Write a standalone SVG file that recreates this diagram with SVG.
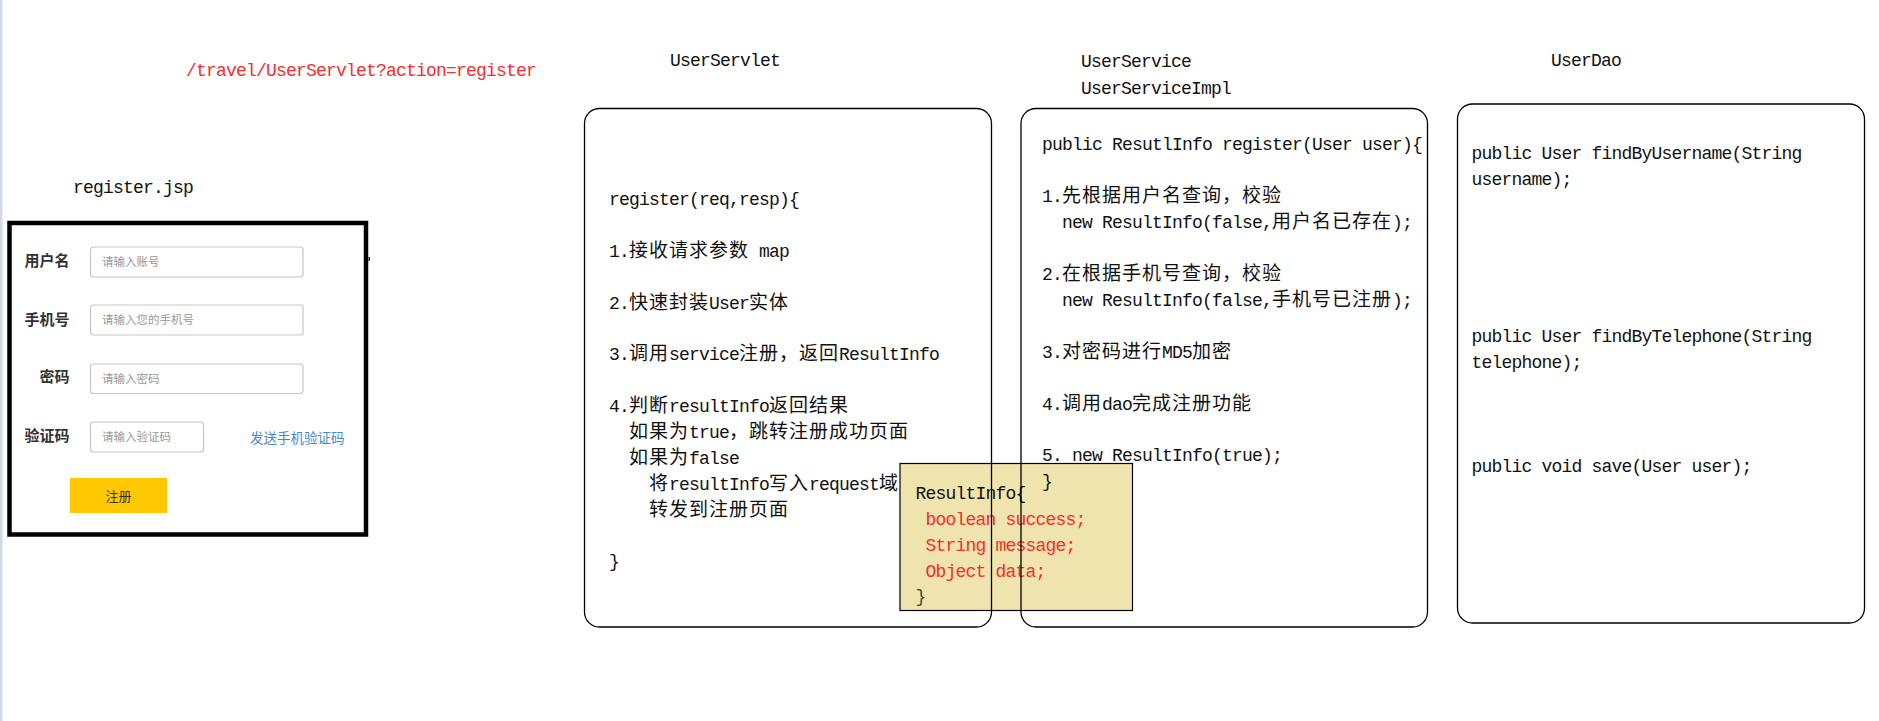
<svg xmlns="http://www.w3.org/2000/svg" width="1879" height="721" viewBox="0 0 1879 721">
<style>
.m{font-family:"Liberation Mono","Noto Sans CJK SC",monospace;font-size:18px;letter-spacing:-0.8px;fill:#111}
.c{font-family:"Noto Sans CJK SC",sans-serif;font-size:19px;letter-spacing:1px}
.red{fill:#f23030}
.box{fill:none;stroke:#000;stroke-width:1.3}
.lbl{font-family:"Noto Sans CJK SC",sans-serif;font-size:15px;font-weight:bold;fill:#333;text-anchor:end}
.inp{fill:#fff;stroke:#c6c6c6;stroke-width:1.2}
.ph{font-family:"Noto Sans CJK SC",sans-serif;font-size:11.5px;fill:#999}
</style>
<rect x="0" y="0" width="2.5" height="721" fill="#cfd9e8"/>
<g id="titles">
<text class="m red" x="186" y="76">/travel/UserServlet?action=register</text>
<text class="m" x="670" y="66">UserServlet</text>
<text class="m" x="1081" y="66.5">UserService</text>
<text class="m" x="1081" y="94">UserServiceImpl</text>
<text class="m" x="1551" y="66">UserDao</text>
<text class="m" x="73" y="193">register.jsp</text>
</g>
<g id="register-form">
<rect x="9.5" y="223" width="356.5" height="311.5" fill="#fff" stroke="#000" stroke-width="4.5"/>
<text class="lbl" x="69.5" y="266">用户名</text>
<text class="lbl" x="69.5" y="324.5">手机号</text>
<text class="lbl" x="69.5" y="382">密码</text>
<text class="lbl" x="69.5" y="441">验证码</text>
<rect class="inp" x="90.5" y="247" width="212.5" height="30" rx="3"/>
<rect class="inp" x="90.5" y="305" width="212.5" height="30" rx="3"/>
<rect class="inp" x="90.5" y="364" width="212.5" height="29.5" rx="3"/>
<rect class="inp" x="90.5" y="422" width="113" height="30" rx="3"/>
<text class="ph" x="102" y="266">请输入账号</text>
<text class="ph" x="102" y="324">请输入您的手机号</text>
<text class="ph" x="102" y="382.5">请输入密码</text>
<text class="ph" x="102" y="441">请输入验证码</text>
<text x="250" y="442.5" font-family="'Noto Sans CJK SC',sans-serif" font-size="13.5" fill="#4a88c7">发送手机验证码</text>
<rect x="70" y="478" width="97" height="35" fill="#ffc800"/>
<text x="118.5" y="501" font-family="'Noto Sans CJK SC',sans-serif" font-size="13" fill="#333" text-anchor="middle">注册</text>
<rect x="368.5" y="257" width="1.5" height="4" fill="#333"/>
</g>
<g id="result-info">
<rect x="900" y="463.5" width="232.5" height="147" fill="#efe3ae" stroke="#000" stroke-width="1.2"/>
<text class="m" x="915.5" y="498.5">ResultInfo{</text>
<text class="m red" x="925.5" y="524.5">boolean success;</text>
<text class="m red" x="925.5" y="550.5">String message;</text>
<text class="m red" x="925.5" y="576.5">Object data;</text>
<text class="m" x="915.5" y="601.5" style="fill:#4a4a2a">}</text>
</g>
<g id="user-servlet">
<rect class="box" x="584.5" y="108.5" width="407" height="518.5" rx="15"/>
<text class="m" x="609" y="205">register(req,resp){</text>
<text class="m" x="609" y="257">1.<tspan class="c">接收请求参数</tspan> map</text>
<text class="m" x="609" y="308.5">2.<tspan class="c">快速封装</tspan>User<tspan class="c">实体</tspan></text>
<text class="m" x="609" y="360">3.<tspan class="c">调用</tspan>service<tspan class="c">注册，返回</tspan>ResultInfo</text>
<text class="m" x="609" y="411.5">4.<tspan class="c">判断</tspan>resultInfo<tspan class="c">返回结果</tspan></text>
<text class="m" x="629" y="437.5"><tspan class="c">如果为</tspan>true<tspan class="c">，跳转注册成功页面</tspan></text>
<text class="m" x="629" y="463.5"><tspan class="c">如果为</tspan>false</text>
<text class="m" x="649" y="489.5"><tspan class="c">将</tspan>resultInfo<tspan class="c">写入</tspan>request<tspan class="c">域</tspan></text>
<text class="m" x="649" y="515.5"><tspan class="c">转发到注册页面</tspan></text>
<text class="m" x="609" y="567">}</text>
</g>
<g id="user-service">
<rect class="box" x="1021" y="108.5" width="406.5" height="518.5" rx="15"/>
<text class="m" x="1042" y="150">public ResutlInfo register(User user){</text>
<text class="m" x="1042" y="202">1.<tspan class="c">先根据用户名查询，校验</tspan></text>
<text class="m" x="1062" y="228">new ResultInfo(false,<tspan class="c">用户名已存在</tspan>);</text>
<text class="m" x="1042" y="280">2.<tspan class="c">在根据手机号查询，校验</tspan></text>
<text class="m" x="1062" y="306">new ResultInfo(false,<tspan class="c">手机号已注册</tspan>);</text>
<text class="m" x="1042" y="357.5">3.<tspan class="c">对密码进行</tspan>MD5<tspan class="c">加密</tspan></text>
<text class="m" x="1042" y="409.5">4.<tspan class="c">调用</tspan>dao<tspan class="c">完成注册功能</tspan></text>
<text class="m" x="1042" y="461">5. new ResultInfo(true);</text>
<text class="m" x="1042" y="487">}</text>
</g>
<g id="user-dao">
<rect class="box" x="1457.5" y="104" width="407" height="519" rx="15"/>
<text class="m" x="1471.5" y="159">public User findByUsername(String</text>
<text class="m" x="1471.5" y="185">username);</text>
<text class="m" x="1471.5" y="341.5">public User findByTelephone(String</text>
<text class="m" x="1471.5" y="367.5">telephone);</text>
<text class="m" x="1471.5" y="472">public void save(User user);</text>
</g>
<g id="connectors"/>
</svg>
